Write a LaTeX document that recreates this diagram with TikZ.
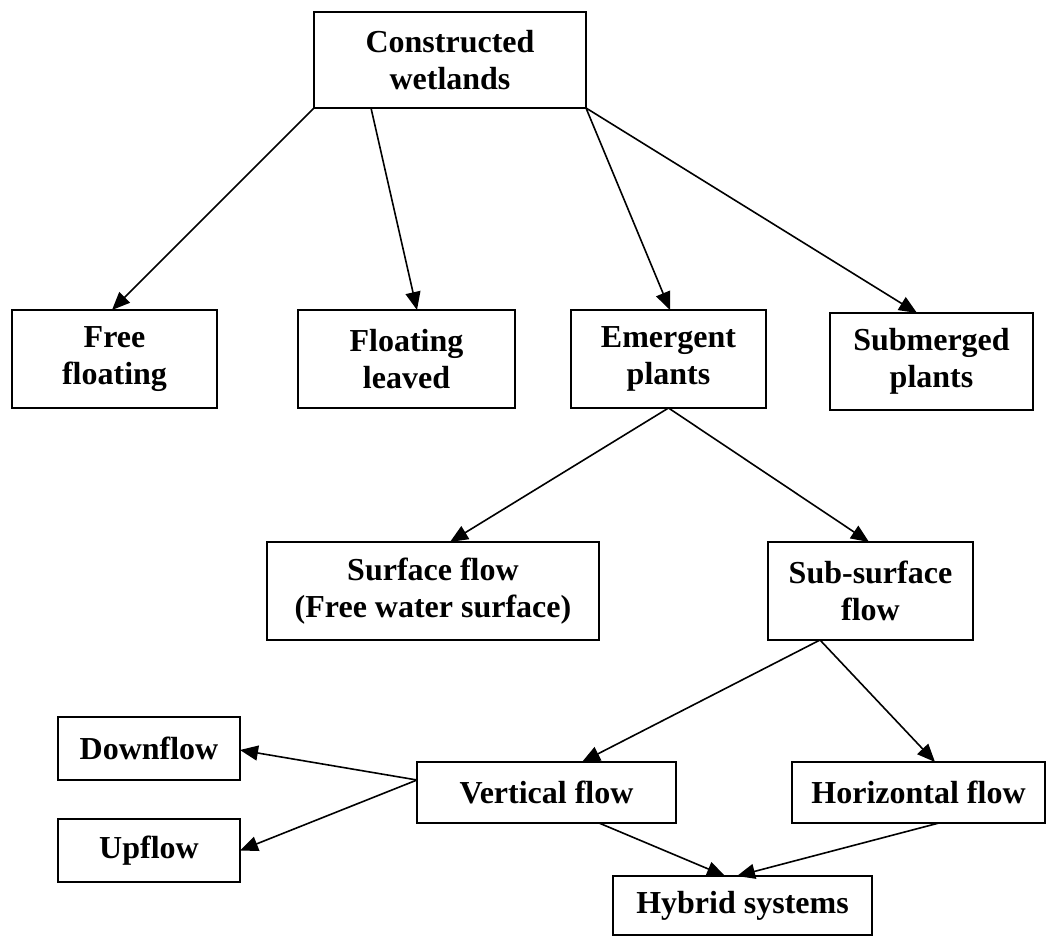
\documentclass[tikz,border=0pt]{standalone}
\usepackage{fontspec}
\setmainfont{Liberation Serif}
\usetikzlibrary{arrows.meta}
\begin{document}
\begin{tikzpicture}[x=1pt,y=-1pt,
  box/.style={draw=black,line width=1.4pt,fill=white,inner sep=0pt,outer sep=0pt,
    align=center,font=\fontsize{32}{37}\selectfont\bfseries},
  conn/.style={draw=black,line width=1.6pt,-{Triangle[length=18pt,width=15pt]}}]
\useasboundingbox[fill=white] (0,0) rectangle (1047,936);
\node[box,minimum width=272pt,minimum height=96pt] (cw) at (450,60) {Constructed\\wetlands};
\node[box,minimum width=205pt,minimum height=98pt] (ff) at (114.5,359) {Free\\floating};
\node[box,minimum width=217pt,minimum height=98pt] (fl) at (406.5,359) {Floating\\leaved};
\node[box,minimum width=195pt,minimum height=98pt] (ep) at (668.5,359) {Emergent\\plants};
\node[box,minimum width=203pt,minimum height=97pt] (sp) at (931.5,361.5) {Submerged\\plants};
\node[box,minimum width=332pt,minimum height=98pt] (sf) at (433,591) {Surface flow\\(Free water surface)};
\node[box,minimum width=205pt,minimum height=98pt] (ss) at (870.5,591) {Sub-surface\\flow};
\node[box,minimum width=182pt,minimum height=63pt] (df) at (149,748.5) {Downflow};
\node[box,minimum width=182pt,minimum height=63pt] (uf) at (149,850.5) {Upflow};
\node[box,minimum width=259pt,minimum height=61pt] (vf) at (546.5,792.5) {Vertical flow};
\node[box,minimum width=253pt,minimum height=61pt] (hf) at (918.5,792.5) {Horizontal flow};
\node[box,minimum width=259pt,minimum height=59pt] (hs) at (742.5,905.5) {Hybrid systems};
\draw[conn] (cw.south west) -- ([xshift=-2.5pt]ff.north);
\draw[conn] ([xshift=-79pt]cw.south) -- ([xshift=10.5pt]fl.north);
\draw[conn] (cw.south east) -- ([xshift=1.5pt]ep.north);
\draw[conn] (cw.south east) -- ([xshift=-14.5pt]sp.north);
\draw[conn] (ep.south) -- ([xshift=17pt]sf.north);
\draw[conn] (ep.south) -- ([xshift=-1.5pt]ss.north);
\draw[conn] ([xshift=-50.5pt]ss.south) -- ([xshift=35.5pt]vf.north);
\draw[conn] ([xshift=-50.5pt]ss.south) -- ([xshift=16.5pt]hf.north);
\draw[conn] ([yshift=12.5pt]vf.west) -- ([yshift=-1.5pt]df.east);
\draw[conn] ([yshift=12.5pt]vf.west) -- (uf.east);
\draw[conn] ([xshift=52.5pt]vf.south) -- ([xshift=-17.5pt]hs.north);
\draw[conn] ([xshift=20.5pt]hf.south) -- ([xshift=-5.5pt]hs.north);
\end{tikzpicture}
\end{document}
